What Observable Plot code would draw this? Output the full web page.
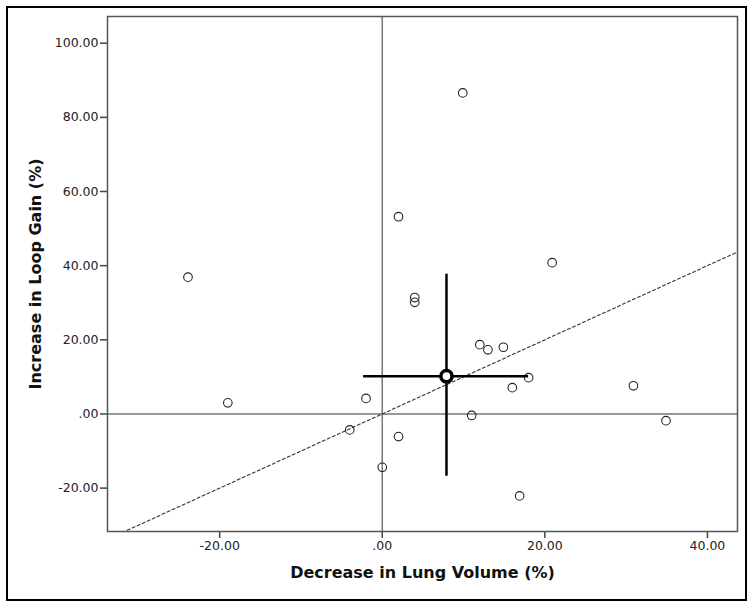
<!DOCTYPE html>
<html>
<head>
<meta charset="utf-8">
<script src="https://cdn.jsdelivr.net/npm/d3@7"></script>
<script src="https://cdn.jsdelivr.net/npm/@observablehq/plot@0.6"></script>
<style>
  html, body { margin: 0; padding: 0; background: #fff; }
  #wrap { position: relative; width: 754px; height: 607px; }
  #border { position: absolute; left: 6px; top: 6px; width: 737px; height: 591px; border: 2px solid #000; pointer-events: none; }
</style>
</head>
<body>
<div id="wrap"><div id="border"></div></div>
<script>
// Individual subjects
const lungVolumeDecrease = [-23.9, -19.0, -2.0, -4.0, 2.0, 0.0, 2.0, 4.0, 4.0, 9.9, 12.0, 13.0, 14.9, 18.0, 16.0, 11.0, 16.9, 20.9, 30.9, 34.9];
const loopGainIncrease   = [ 36.9,   3.0,  4.2, -4.3, -6.1, -14.4, 53.2, 31.4, 30.1, 86.6, 18.7, 17.3, 18.0, 9.8, 7.1, -0.4, -22.1, 40.8, 7.6, -1.8];

// Group mean with error bars
const meanX = [7.9];
const meanY = [10.2];
const errXLow = [-2.3], errXHigh = [18.0];
const errYLow = [-16.8], errYHigh = [37.7];

// Line of identity (y = x)
const identityValues = [-40, 50];

const xTicks = [-20, 0, 20, 40];
const yTicks = [-20, 0, 20, 40, 60, 80, 100];

const fmt = d => d === 0 ? ".00" : d.toFixed(2);

const points = lungVolumeDecrease.map((x, i) => ({x, y: loopGainIncrease[i]}));
const mean = meanX.map((x, i) => ({x, y: meanY[i], x1: errXLow[i], x2: errXHigh[i], y1: errYLow[i], y2: errYHigh[i]}));

const chart = Plot.plot({
  width: 754,
  height: 607,
  marginLeft: 107,
  marginRight: 17,
  marginTop: 16,
  marginBottom: 76,
  style: {fontFamily: "DejaVu Sans", fontSize: "12.5px", color: "#222", background: "transparent"},
  x: {domain: [-33.8, 43.7], ticks: xTicks, tickFormat: fmt, tickSize: 7, tickPadding: 3,
      label: "Decrease in Lung Volume (%)", labelAnchor: "center", labelOffset: 46, labelArrow: "none"},
  y: {domain: [-31.7, 107.2], ticks: yTicks, tickFormat: fmt, tickSize: 7, tickPadding: 2,
      label: "Increase in Loop Gain (%)", labelAnchor: "center", labelOffset: 78, labelArrow: "none"},
  marks: [
    Plot.ruleX([0], {stroke: "#777", strokeWidth: 1.5}),
    Plot.ruleY([0], {stroke: "#777", strokeWidth: 1.5}),
    Plot.line(identityValues, {x: d => d, y: d => d, stroke: "#333", strokeWidth: 1.1, strokeDasharray: "3,2.5", clip: true}),
    Plot.dot(points, {x: "x", y: "y", r: 4.3, stroke: "#222", strokeWidth: 1.1, fill: "none"}),
    Plot.ruleY(mean, {y: "y", x1: "x1", x2: "x2", stroke: "#000", strokeWidth: 2.5}),
    Plot.ruleX(mean, {x: "x", y1: "y1", y2: "y2", stroke: "#000", strokeWidth: 2.5}),
    Plot.dot(mean, {x: "x", y: "y", r: 5.6, stroke: "#000", strokeWidth: 3.6, fill: "#fff"}),
    Plot.frame({stroke: "#555", strokeWidth: 1.5})
  ]
});

// Style the axis titles
d3.select(chart).selectAll("g[aria-label='x-axis label'] text, g[aria-label='y-axis label'] text")
  .attr("font-weight", "bold").attr("font-size", "16px").attr("fill", "#111");
d3.select(chart).selectAll("g[aria-label='x-axis tick'] path, g[aria-label='y-axis tick'] path")
  .attr("stroke", "#444").attr("stroke-width", 1.5);

document.getElementById("wrap").prepend(chart);
</script>
</body>
</html>
